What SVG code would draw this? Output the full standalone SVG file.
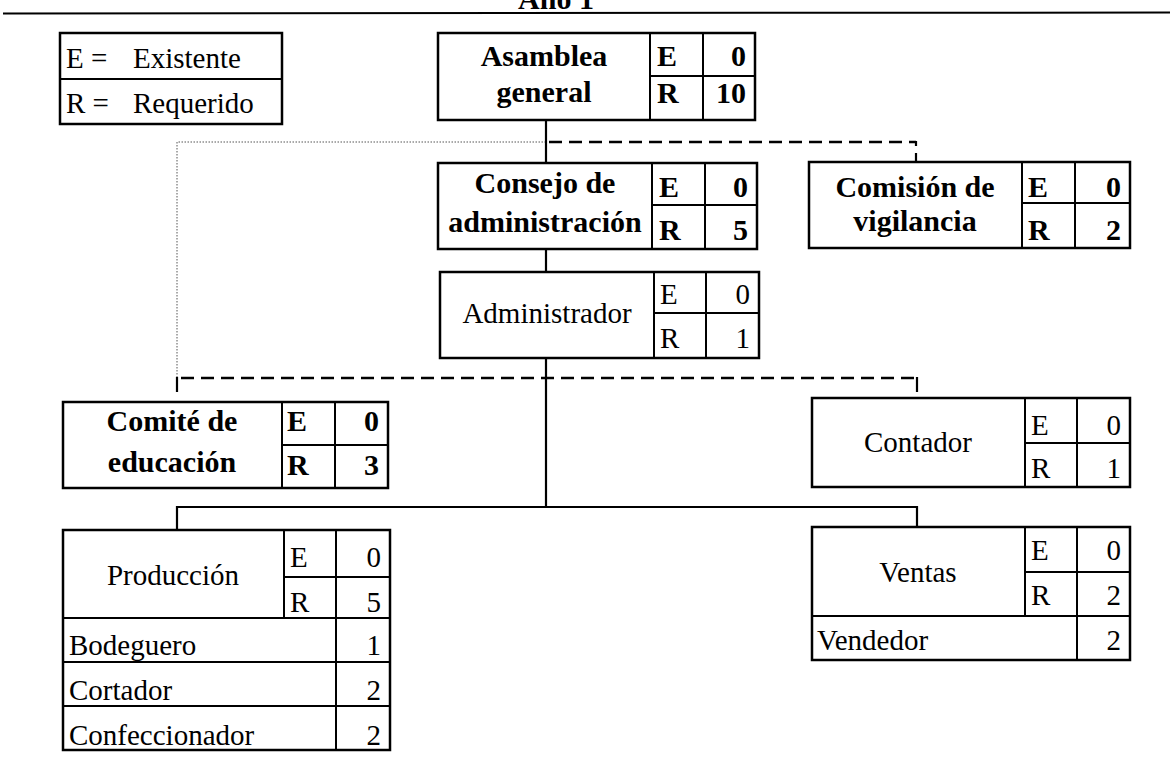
<svg xmlns="http://www.w3.org/2000/svg" width="1170" height="757" viewBox="0 0 1170 757">
<style>
.bx{fill:#fff;stroke:#000;stroke-width:2.5}
.dv{stroke:#000;stroke-width:2;fill:none}
.ln{stroke:#000;stroke-width:2.2;fill:none}
.da{stroke:#000;stroke-width:2.5;fill:none;stroke-dasharray:13 7}
.dt{stroke:#555;stroke-width:1;fill:none;stroke-dasharray:1.5 1.5}
text{font-family:"Liberation Serif","Times New Roman",serif;font-size:29px;fill:#000}
.b{font-weight:bold;font-size:30px}
.m{text-anchor:middle}
.e{text-anchor:end}
</style>
<rect width="1170" height="757" fill="#fff"/>
<g id="title">
<text class="b m" x="556" y="9">Año 1</text>
<line x1="3" y1="13.5" x2="1170" y2="12.5" stroke="#000" stroke-width="2"/>
</g>
<g id="connectors">
<path class="dt" d="M546 142 H177 V378"/>
<path class="da" d="M549 142 H916"/>
<path class="ln" d="M916 141 V146 M916 153 V162"/>
<path class="da" d="M181 378 H917"/>
<path class="ln" d="M177 377 V392 M917 377 V392"/>
<path class="ln" d="M546 120 V163 M546 249 V272 M546 358 V507 M177 530 V507 H917 V527"/>
</g>
<g id="legend">
<rect class="bx" x="60" y="33" width="222" height="91"/>
<line class="dv" x1="60" y1="79" x2="282" y2="79"/>
<text x="66" y="68">E =</text><text x="133" y="68">Existente</text>
<text x="66" y="113">R =</text><text x="133" y="113">Requerido</text>
</g>
<g id="asamblea">
<rect class="bx" x="438" y="33" width="317" height="87"/>
<path class="dv" d="M650 33 V120 M703 33 V120 M650 76 H755"/>
<text class="b m" x="544" y="66">Asamblea</text>
<text class="b m" x="544" y="102">general</text>
<text class="b" x="657" y="66">E</text><text class="b" x="657" y="103">R</text>
<text class="b e" x="746" y="66">0</text><text class="b e" x="746" y="103">10</text>
</g>
<g id="consejo">
<rect class="bx" x="438" y="163" width="319" height="86"/>
<path class="dv" d="M652 163 V249 M705 163 V249 M652 205 H757"/>
<text class="b m" x="545" y="193">Consejo de</text>
<text class="b m" x="545" y="232">administración</text>
<text class="b" x="659" y="197">E</text><text class="b" x="659" y="240">R</text>
<text class="b e" x="748" y="197">0</text><text class="b e" x="748" y="240">5</text>
</g>
<g id="administrador">
<rect class="bx" x="440" y="272" width="319" height="86"/>
<path class="dv" d="M654 272 V358 M706 272 V358 M654 313 H759"/>
<text class="m" x="547" y="323">Administrador</text>
<text x="660" y="304">E</text><text x="660" y="348">R</text>
<text class="e" x="750" y="304">0</text><text class="e" x="750" y="348">1</text>
</g>
<g id="comision">
<rect class="bx" x="809" y="162" width="321" height="86"/>
<path class="dv" d="M1022 162 V248 M1075 162 V248 M1022 203 H1130"/>
<text class="b m" x="915" y="197">Comisión de</text>
<text class="b m" x="915" y="231">vigilancia</text>
<text class="b" x="1028" y="197">E</text><text class="b" x="1028" y="240">R</text>
<text class="b e" x="1121" y="197">0</text><text class="b e" x="1121" y="240">2</text>
</g>
<g id="comite">
<rect class="bx" x="63" y="402" width="325" height="86"/>
<path class="dv" d="M282 402 V488 M335 402 V488 M282 445 H388"/>
<text class="b m" x="172" y="431">Comité de</text>
<text class="b m" x="172" y="472">educación</text>
<text class="b" x="287" y="431">E</text><text class="b" x="287" y="475">R</text>
<text class="b e" x="379" y="431">0</text><text class="b e" x="379" y="475">3</text>
</g>
<g id="contador">
<rect class="bx" x="812" y="398" width="318" height="89"/>
<path class="dv" d="M1025 398 V487 M1077 398 V487 M1025 443 H1130"/>
<text class="m" x="918" y="452">Contador</text>
<text x="1031" y="435">E</text><text x="1031" y="478">R</text>
<text class="e" x="1121" y="435">0</text><text class="e" x="1121" y="478">1</text>
</g>
<g id="produccion">
<rect class="bx" x="63" y="530" width="327" height="220"/>
<path class="dv" d="M284 530 V618 M336 530 V750 M284 577 H390 M63 618 H390 M63 662 H390 M63 706 H390"/>
<text class="m" x="173" y="585">Producción</text>
<text x="290" y="567">E</text><text x="290" y="612">R</text>
<text class="e" x="381" y="567">0</text><text class="e" x="381" y="612">5</text>
<text x="69" y="655">Bodeguero</text><text class="e" x="381" y="655">1</text>
<text x="69" y="700">Cortador</text><text class="e" x="381" y="700">2</text>
<text x="69" y="745">Confeccionador</text><text class="e" x="381" y="745">2</text>
</g>
<g id="ventas">
<rect class="bx" x="812" y="527" width="318" height="133"/>
<path class="dv" d="M1025 527 V616 M1077 527 V660 M1025 572 H1130 M812 616 H1130"/>
<text class="m" x="918" y="582">Ventas</text>
<text x="1031" y="560">E</text><text x="1031" y="605">R</text>
<text class="e" x="1121" y="560">0</text><text class="e" x="1121" y="605">2</text>
<text x="817" y="650">Vendedor</text><text class="e" x="1121" y="650">2</text>
</g>
</svg>
